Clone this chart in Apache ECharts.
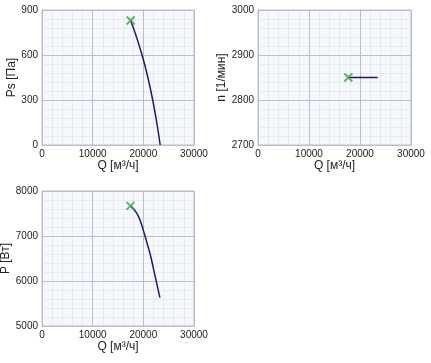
<!DOCTYPE html>
<html><head><meta charset="utf-8">
<script src="https://cdn.jsdelivr.net/npm/echarts@6/dist/echarts.min.js"></script>
<style>html,body{margin:0;padding:0;background:#fff}#c{width:431px;height:363px}</style>
</head><body><div id="c"></div>
<script>
// Data
const psQ = [17500, 18350, 19750, 20900, 21850, 22650, 23330];
const psV = [830, 750, 600, 450, 300, 150, 0];
const nQ = [17700, 23470];
const nV = [2850, 2850];
const pQ = [17450, 18500, 19400, 20330, 20840, 21430, 22300, 23270];
const pV = [7670, 7540, 7340, 7000, 6800, 6560, 6120, 5629];
const opPoint = { ps: [17500, 830], n: [17700, 2850], p: [17450, 7670] };
const xTicks = [0, 10000, 20000, 30000];
const psTicks = [0, 300, 600, 900];
const nTicks = [2700, 2800, 2900, 3000];
const pTicks = [5000, 6000, 7000, 8000];
const xName = 'Q [м³/ч]';

const font = 'Liberation Sans';
const grids = [
  {left: 42, top: 10, width: 152, height: 135},
  {left: 258, top: 10, width: 153, height: 135},
  {left: 42, top: 191, width: 152, height: 135}
];
const major = {show: true, lineStyle: {color: '#b8bfcc', width: 1, type: 'solid'}};
const minor = {show: true, lineStyle: {color: 'rgba(190,205,230,0.28)', width: 1, type: 'solid'}};
function xAxis(i) {
  return {
    type: 'value', gridIndex: i, min: xTicks[0], max: xTicks[xTicks.length-1], interval: 10000,
    name: xName, nameLocation: 'middle', nameGap: 15, nameMoveOverlap: false,
    nameTextStyle: {fontFamily: font, fontSize: 12, color: '#222'},
    axisLine: {show: true, lineStyle: {color: '#b8bfcc'}}, axisTick: {show: false},
    axisLabel: {fontFamily: font, fontSize: 10, color: '#222', margin: 4, formatter: v => String(v)},
    splitLine: major,
    minorTick: {show: false, splitNumber: 5},
    minorSplitLine: minor
  };
}
function yAxis(i, ticks, name, gap) {
  return {
    type: 'value', gridIndex: i, min: ticks[0], max: ticks[ticks.length-1], interval: ticks[1]-ticks[0],
    name: name, nameLocation: 'middle', nameGap: gap, nameRotate: 90, nameMoveOverlap: false,
    nameTextStyle: {fontFamily: font, fontSize: 12, color: '#222'},
    axisLine: {show: true, lineStyle: {color: '#b8bfcc'}}, axisTick: {show: false},
    axisLabel: {fontFamily: font, fontSize: 10, color: '#222', margin: 4, formatter: v => String(v)},
    splitLine: major,
    minorTick: {show: false, splitNumber: 5},
    minorSplitLine: minor
  };
}
function line(i, xs, ys) {
  return {type: 'line', xAxisIndex: i, yAxisIndex: i, data: xs.map((x, k) => [x, ys[k]]),
    smooth: 0.3, showSymbol: false, lineStyle: {color: '#1a1a7a', width: 1.5}, z: 3, silent: true};
}
function mark(i, pt) {
  return {type: 'scatter', xAxisIndex: i, yAxisIndex: i, data: [pt],
    symbol: 'path://M0,0L10,10M10,0L0,10', symbolSize: 8,
    itemStyle: {color: 'none', borderColor: '#3aa63a', borderWidth: 2}, z: 5, silent: true};
}
const chart = echarts.init(document.getElementById('c'), null, {renderer: 'canvas'});
chart.setOption({
  animation: false,
  grid: grids.map(g => Object.assign({show: true, backgroundColor: '#f6f8fc', borderColor: '#b8bfcc', borderWidth: 1, containLabel: false, outerBoundsMode: 'none'}, g)),
  xAxis: [xAxis(0), xAxis(1), xAxis(2)],
  yAxis: [yAxis(0, psTicks, 'Ps [Па]', 24), yAxis(1, nTicks, 'n [1/мин]', 30), yAxis(2, pTicks, 'P [Вт]', 30.5)],
  series: [line(0, psQ, psV), line(1, nQ, nV), line(2, pQ, pV),
           mark(0, opPoint.ps), mark(1, opPoint.n), mark(2, opPoint.p)]
});
</script></body></html>
